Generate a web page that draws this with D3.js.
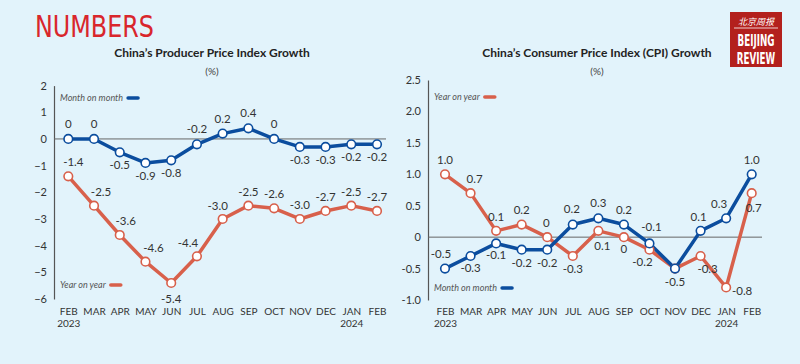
<!DOCTYPE html>
<html><head><meta charset="utf-8">
<script src="https://cdn.jsdelivr.net/npm/d3@7"></script>
<style>
html,body{margin:0;padding:0;background:#e2f3fb;}
svg{display:block;font-family:Lato,"Open Sans",sans-serif;}
</style></head>
<body><svg id="c" width="800" height="364"></svg>
<script>
const months = ["FEB","MAR","APR","MAY","JUN","JUL","AUG","SEP","OCT","NOV","DEC","JAN","FEB"];
const years = ["2023","","","","","","","","","","","2024",""];
const ppiMoM = [0,0,-0.5,-0.9,-0.8,-0.2,0.2,0.4,0,-0.3,-0.3,-0.2,-0.2];
const ppiYoY = [-1.4,-2.5,-3.6,-4.6,-5.4,-4.4,-3.0,-2.5,-2.6,-3.0,-2.7,-2.5,-2.7];
const cpiYoY = [1.0,0.7,0.1,0.2,0,-0.3,0.1,0,-0.2,-0.5,-0.3,-0.8,0.7];
const cpiMoM = [-0.5,-0.3,-0.1,-0.2,-0.2,0.2,0.3,0.2,-0.1,-0.5,0.1,0.3,1.0];
const ppiTicks = [2,1,0,-1,-2,-3,-4,-5,-6];
const cpiTicks = [2.5,2.0,1.5,1.0,0.5,0,-0.5,-1.0];
// label placements: [dx, dy] relative to point
const ppiMoMLab = [[0,-11],[0,-11],[0,17],[0,17],[0,17],[0,-11],[0,-11],[0,-11],[0,-11],[0,17],[0,17],[0,17],[0,17]];
const ppiYoYLab = [[5,-10],[7,-10],[6,-10],[8,-10],[0,20],[-9,-9],[-5,-9],[0,-10],[0,-10],[0,-10],[0,-10],[0,-10],[0,-10]];
const cpiYoYLab = [[0,-10],[4,-10],[0,-10],[0,-11],[-1,-10],[0,17],[4,19],[0,16],[-7,16],[0,17],[7,17],[16,8],[2,19]];
const cpiMoMLab = [[-4,-11],[0,16],[0,16],[0,17],[0,17],[-1,-12],[0,-11],[0,-11],[2,-12],[0,17],[-2,-10],[-7,-10],[0,-10]];

const BLUE="#0b4d9e", RED="#d8604b", TXT="#333", AX="#555";
const COND="'Liberation Sans Narrow','DejaVu Sans Condensed','Liberation Sans',sans-serif";
const svg = d3.select("#c");

svg.append("text").attr("x",35).attr("y",37).text("NUMBERS")
  .attr("font-family",COND)
  .attr("font-size",31).attr("fill","#d9262c").attr("textLength",119).attr("lengthAdjust","spacingAndGlyphs");

// logo
const lg = svg.append("g");
lg.append("rect").attr("x",730).attr("y",12).attr("width",52).attr("height",55).attr("fill","#b3201d");
lg.append("text").attr("x",756).attr("y",25).attr("text-anchor","middle").attr("fill","#fff")
  .attr("font-family","'Noto Sans CJK SC'").attr("font-size",9).attr("font-style","italic").text("北京周报");
lg.append("line").attr("x1",734).attr("x2",778).attr("y1",28).attr("y2",28).attr("stroke","#fff").attr("stroke-width",0.8);
[["BEIJING",45.5],["REVIEW",63.5]].forEach(([t,yy])=>{
  lg.append("text").attr("transform",`translate(756,${yy}) scale(0.72,1.2)`).attr("text-anchor","middle").attr("fill","#fff")
    .attr("font-family",COND).attr("font-weight","bold").attr("font-size",13.5).text(t);
});

function panel(o){
  const g = svg.append("g");
  const x = d3.scaleLinear().domain([0,12]).range([o.x0,o.x1]);
  const y = d3.scaleLinear().domain(o.dom).range(o.rng);
  g.append("text").attr("x",o.tx).attr("y",57).attr("text-anchor","middle").attr("font-weight","bold")
    .attr("font-size",12).attr("fill","#222").text(o.title);
  g.append("text").attr("x",o.tx).attr("y",75).attr("text-anchor","middle").attr("font-size",10).attr("fill","#444").text("(%)");
  // y axis
  const ya = d3.axisLeft(y).tickValues(o.ticks).tickSize(0).tickPadding(7).tickFormat(o.fmt);
  const ag = g.append("g").attr("transform",`translate(${o.ax},0)`).call(ya);
  ag.select(".domain").attr("stroke",AX).attr("stroke-width",1.2);
  ag.selectAll("text").attr("font-size",11).attr("fill",TXT).attr("font-family","Lato,sans-serif");
  // zero line
  g.append("line").attr("x1",o.ax).attr("x2",o.zx).attr("y1",y(0)).attr("y2",y(0)).attr("stroke","#666").attr("stroke-width",1);
  // x labels
  const xa = d3.axisBottom(x).tickValues(d3.range(13)).tickSize(0).tickPadding(0).tickFormat(i=>months[i]);
  const xg = g.append("g").attr("transform",`translate(0,${o.xly})`).call(xa);
  xg.select(".domain").remove();
  xg.selectAll("text").attr("font-size",10).attr("fill",TXT).attr("font-family","Lato,sans-serif").attr("dy","0");
  xg.selectAll(".tick").append("text").attr("y",12).attr("font-size",10).attr("fill",TXT)
    .attr("text-anchor","middle").attr("font-family","Lato,sans-serif").text(i=>years[i]);
  const line = d3.line().x((d,i)=>x(i)).y(d=>y(d));
  o.series.forEach(s=>{
    g.append("path").datum(s.v).attr("d",line).attr("fill","none").attr("stroke",s.c)
      .attr("stroke-width",3.5).attr("stroke-linejoin","round");
  });
  o.series.forEach(s=>{
    g.selectAll(null).data(s.v).enter().append("circle").attr("cx",(d,i)=>x(i)).attr("cy",d=>y(d))
      .attr("r",4.3).attr("fill","#fff").attr("stroke",s.c).attr("stroke-width",1.6);
  });
  o.series.forEach(s=>{
    const pts = s.v.map((v,i)=>({v,i})).filter(p=>!(s.skip&&s.skip.includes(p.i)));
    g.selectAll(null).data(pts).enter().append("text")
      .attr("x",p=>x(p.i)+s.lab[p.i][0]).attr("y",p=>y(p.v)+s.lab[p.i][1]).attr("text-anchor","middle")
      .attr("font-size",11.5).attr("fill",TXT).text(p=>s.f(p.v));
  });
  // legends
  o.legs.forEach(l=>{
    const t = g.append("text").attr("x",l.x).attr("y",l.y).attr("font-size",9).attr("font-style","italic")
      .attr("fill","#555").text(l.t);
    const w = t.node().getComputedTextLength();
    g.append("line").attr("x1",l.x+w+5).attr("x2",l.x+w+15).attr("y1",l.y-3).attr("y2",l.y-3)
      .attr("stroke",l.c).attr("stroke-width",3.5).attr("stroke-linecap","round");
  });
}
const f1 = d=> d===0 ? "0" : d.toFixed(1);
panel({x0:68.3,x1:377,dom:[2,-6],rng:[85.6,299],ax:54,zx:386,tx:212,xly:315,
  title:"China\u2019s Producer Price Index Growth",ticks:ppiTicks,fmt:d3.format("d"),
  series:[{v:ppiYoY,c:RED,lab:ppiYoYLab,f:f1},{v:ppiMoM,c:BLUE,lab:ppiMoMLab,f:f1}],
  legs:[{x:60,y:101,t:"Month on month",c:BLUE},{x:60,y:288,t:"Year on year",c:RED}]});
panel({x0:445,x1:751.7,dom:[2.5,-1.0],rng:[80,300],ax:428,zx:762,tx:597,xly:315,
  title:"China\u2019s Consumer Price Index (CPI) Growth",ticks:cpiTicks,fmt:d=>d===0?"0":d.toFixed(1),
  series:[{v:cpiYoY,c:RED,lab:cpiYoYLab,f:f1,skip:[9]},{v:cpiMoM,c:BLUE,lab:cpiMoMLab,f:f1}],
  legs:[{x:434,y:100,t:"Year on year",c:RED},{x:434,y:291,t:"Month on month",c:BLUE}]});
</script></body></html>
